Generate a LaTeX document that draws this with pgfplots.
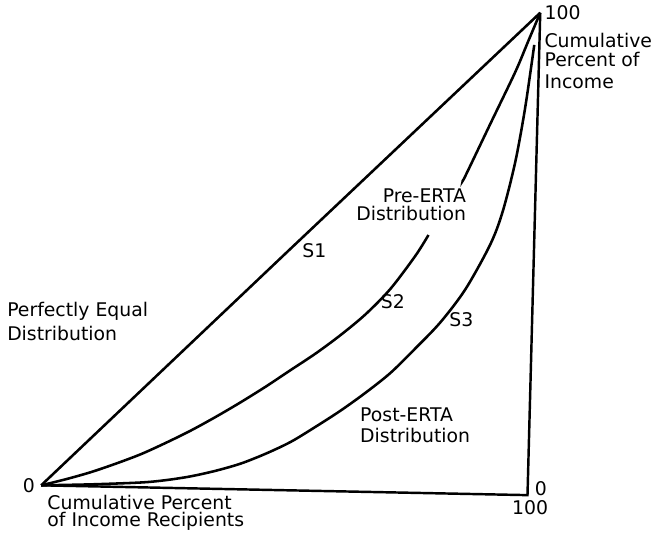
\documentclass[border=0pt]{standalone}
\usepackage{pgfplots}
\pgfplotsset{compat=1.18}
\usepackage{fontspec}
\setmainfont{DejaVu Sans}
\tikzset{lab/.style={anchor=base west, inner sep=0pt, font=\fontsize{9.6}{11}\selectfont}}
\begin{document}
\begin{tikzpicture}
\begin{axis}[
  width=326pt, height=273pt, scale only axis,
  xmin=0, xmax=652, ymin=0, ymax=546, y dir=reverse,
  hide axis, clip=false,
]
\path (axis cs:0,0) (axis cs:652,546);
% S1: perfectly equal distribution
\addplot[black, line width=1.3pt] coordinates {(42,495) (296,254) (551,13)};
% frame: bottom and right side
\addplot[black, line width=1.25pt, line join=miter] coordinates {(42,495) (538,505) (551,13)};
% S2 lower part (pre-ERTA)
\addplot[black, line width=1.3pt, smooth, tension=0.5] coordinates {
(42,495) (67.5,488.7) (92.9,481.5) (118.4,472.8) (143.8,463.2) (169.3,451.6)
(194.7,439.1) (220.2,425.1) (245.6,410.2) (271.1,394.3) (296.5,377.4) (322,360.5)
(347.4,341.7) (372.9,320.5) (398.3,294.5) (423.8,260.7) (437,239.7)};
% S2 upper part
\addplot[black, line width=1.3pt, smooth, tension=0.5] coordinates {
(472.1,183.6) (474.7,179.3) (500.1,126.3) (525.6,73.3) (538.3,43.1) (551,13)};
% S3 (post-ERTA)
\addplot[black, line width=1.3pt, smooth, tension=0.5] coordinates {
(42,495) (92.9,494.0) (143.8,492.1) (169.3,489.7) (194.7,485.8) (220.2,480.1)
(245.6,472.8) (271.1,462.7) (296.5,450.7) (322.0,435.2) (347.4,418.8) (372.9,400.5)
(398.3,380.3) (423.8,355.2) (449.2,328.7) (474.7,295.0) (500.1,249.2) (512.8,215.4)
(525.6,164.8) (535.7,109.4) (544.9,45.8)};
% labels
\node[lab] at (axis cs:555,20) {100};
\node[lab] at (axis cs:555,48) {Cumulative};
\node[lab] at (axis cs:555,68) {Percent of};
\node[lab] at (axis cs:555,90) {Income};
\node[lab] at (axis cs:390,207) {Pre-ERTA};
\node[lab] at (axis cs:363,225) {Distribution};
\node[lab] at (axis cs:308,263) {S1};
\node[lab] at (axis cs:388,315) {S2};
\node[lab] at (axis cs:458,333) {S3};
\node[lab] at (axis cs:7,323) {Perfectly Equal};
\node[lab] at (axis cs:7,347) {Distribution};
\node[lab] at (axis cs:367,430) {Post-ERTA};
\node[lab] at (axis cs:367,451) {Distribution};
\node[lab] at (axis cs:23,502) {0};
\node[lab] at (axis cs:48,520) {Cumulative Percent};
\node[lab] at (axis cs:48,537) {of Income Recipients};
\node[lab] at (axis cs:545,505) {0};
\node[lab] at (axis cs:522,525) {100};
\end{axis}
\end{tikzpicture}
\end{document}
